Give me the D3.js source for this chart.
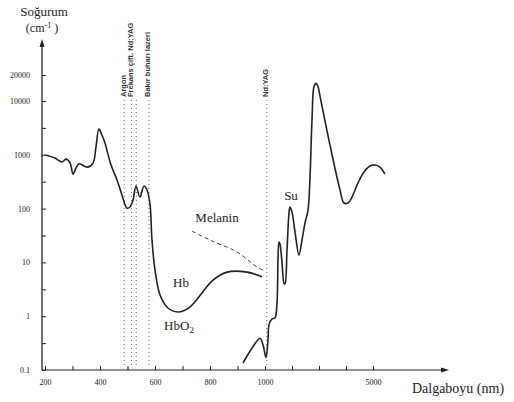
<!DOCTYPE html>
<html><head><meta charset="utf-8">
<script src="https://cdn.jsdelivr.net/npm/d3@7"></script>
<style>body{margin:0;background:#fff}svg{display:block}</style>
</head><body>
<script>
// ---- data ----
const hbNm  = [200,236,262,276,291,302,313,324,342,356,375,385,396,407,418,440,462,480,498,509,520,531,545,560,571,582,589,600,618,647,684,727,771,807,862,935,989];
const hbVal = [990,870,735,830,710,440,570,680,620,590,710,1340,3000,2330,1660,650,340,178,102,107,144,263,164,263,222,117,26,7.2,2.5,1.42,1.2,1.48,2.7,4.5,6.6,6.6,5.4];
const melNm  = [735,800,898,971,1000];
const melVal = [38,26,15.6,8.2,6.9];
const suNm  = [920,956,982,993,1037,1111,1148,1259,1370,1444,1481,1518,1555,1630,1704,1740,1815,1889,1926,2000,2111,2259,2370,2481,2593,2667,2741,2815,2889,2963,3037,3407,3778,3926,4074,4222,4444,4667,4889,5074,5259,5444];
const suVal = [0.135,0.27,0.39,0.29,0.17,0.36,0.69,0.89,0.93,1.76,11,24,22,10,4.1,4.0,17,83,107,86,37,13.7,26,54,94,386,4430,14700,16000,14700,11400,1510,222,127,127,164,300,480,620,645,590,440];
const laserNm = [488,514,532,578,1064];
const laserLabels = [{nm:488,x:126,text:"Argon"},{nm:532,x:133,text:"Frekans çift. Nd:YAG"},{nm:578,x:150,text:"Bakır buharı lazeri"},{nm:1064,x:268,text:"Nd:YAG"}];
const yTickVals = [0.1,1,10,100,1000,10000,20000];
const yTickText = ["0.1","1","10","100","1000","10000","20000"];
const yMinor = [0.316,3.16,31.6,316,3162];
const xTickVals = [200,300,400,500,600,700,800,900,1000,2000,3000,4000,5000];
const xTickText = {200:"200",400:"400",600:"600",800:"800",1000:"1000",5000:"5000"};

const W=514,H=402;
const svg=d3.select("body").append("svg").attr("width",W).attr("height",H);
const ink="#222";
const x=d3.scaleLinear().domain([200,1000,5000,7800]).range([45,265,373,448]);
const y=d3.scaleLog().domain([0.1,10000,20000]).range([370,101,75]);
const serif="'Liberation Serif','DejaVu Serif',serif";
const sans="'Liberation Sans',Arial,sans-serif";

// laser dotted lines
svg.append("g").selectAll("line").data(laserNm).join("line")
  .attr("x1",d=>x(d)).attr("x2",d=>x(d)).attr("y1",100).attr("y2",368)
  .attr("stroke","#666").attr("stroke-width",1).attr("stroke-dasharray","1,3");
svg.append("g").selectAll("text").data(laserLabels).join("text")
  .attr("transform",d=>`translate(${d.x},97) rotate(-90)`)
  .attr("font-family",sans).attr("font-size",7.5).attr("font-weight","bold").attr("fill","#333")
  .text(d=>d.text);

// axes
const yAxis=d3.axisLeft(y).tickValues(yTickVals).tickFormat((d,i)=>yTickText[i]).tickSizeInner(-4).tickSizeOuter(0).tickPadding(12);
const gy=svg.append("g").attr("transform","translate(42,0)").call(yAxis);
gy.select(".domain").remove();
gy.selectAll("text").attr("font-family",serif).attr("font-size",8).attr("fill",ink);
gy.selectAll("line").attr("stroke",ink);
const gym=svg.append("g").attr("transform","translate(42,0)").call(d3.axisLeft(y).tickValues(yMinor).tickFormat("").tickSizeInner(-4).tickSizeOuter(0));
gym.select(".domain").remove(); gym.selectAll("line").attr("stroke",ink);

const xAxis=d3.axisBottom(x).tickValues(xTickVals).tickFormat(d=>xTickText[d]||"").tickSizeInner(-4).tickSizeOuter(0).tickPadding(9);
const gx=svg.append("g").attr("transform","translate(0,370)").call(xAxis);
gx.select(".domain").remove();
gx.selectAll("text").attr("font-family",serif).attr("font-size",8).attr("fill",ink);
gx.selectAll("line").attr("stroke",ink);

svg.append("line").attr("x1",42).attr("x2",42).attr("y1",370).attr("y2",44).attr("stroke",ink).attr("stroke-width",1.3);
svg.append("path").attr("d","M42,39 L39.5,47 L44.5,47 Z").attr("fill",ink);
svg.append("line").attr("x1",42).attr("x2",444).attr("y1",370).attr("y2",370).attr("stroke",ink).attr("stroke-width",1);
svg.append("path").attr("d","M449,370 L441,367.5 L441,372.5 Z").attr("fill",ink);

// curves
const line=d3.line().x(d=>x(d[0])).y(d=>y(d[1])).curve(d3.curveCatmullRom.alpha(0.5));
svg.append("path").datum(d3.zip(hbNm,hbVal)).attr("d",line).attr("fill","none").attr("stroke",ink).attr("stroke-width",1.6);
svg.append("path").datum(d3.zip(melNm,melVal)).attr("d",line).attr("fill","none").attr("stroke","#444").attr("stroke-width",1).attr("stroke-dasharray","4,3");
svg.append("path").datum(d3.zip(suNm,suVal)).attr("d",line).attr("fill","none").attr("stroke",ink).attr("stroke-width",1.6);

// labels
const lab=(t,xx,yy,fs,anchor="middle")=>svg.append("text").attr("x",xx).attr("y",yy).attr("font-family",serif).attr("font-size",fs).attr("fill",ink).attr("text-anchor",anchor).text(t);
lab("Soğurum",44,16,13);
const cm=svg.append("text").attr("x",42).attr("y",32).attr("font-family",serif).attr("font-size",12).attr("fill",ink).attr("text-anchor","middle");
cm.append("tspan").text("(cm");
cm.append("tspan").attr("dy",-4).attr("font-size",8).text("-1");
cm.append("tspan").attr("dy",4).text(" )");
lab("Melanin",217,222,13);
lab("Hb",181,287,13);
const hbo=svg.append("text").attr("x",179).attr("y",330).attr("font-family",serif).attr("font-size",13).attr("fill",ink).attr("text-anchor","middle");
hbo.append("tspan").text("HbO");
hbo.append("tspan").attr("dy",3).attr("font-size",9).text("2");
lab("Su",291,200,13);
lab("Dalgaboyu (nm)",458,393,14);
</script>
</body></html>
